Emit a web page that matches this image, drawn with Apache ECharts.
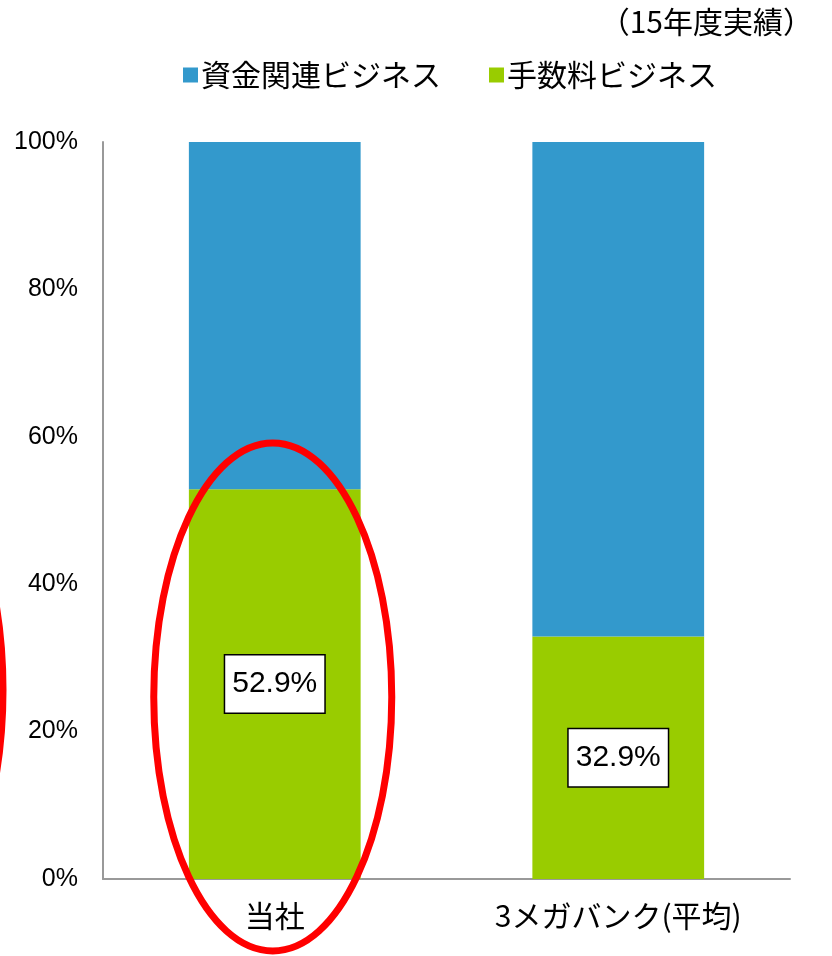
<!DOCTYPE html>
<html>
<head>
<meta charset="utf-8">
<script src="https://cdn.jsdelivr.net/npm/echarts@6/dist/echarts.min.js"></script>
<style>
  html, body { margin: 0; padding: 0; background: #fff; }
  #main { width: 832px; height: 956px; }
</style>
</head>
<body>
<div id="main"></div>
<script>
var categories = ['当社', '3メガバンク(平均)'];
var feeShare = [52.9, 32.9];      // 手数料ビジネス
var fundShare = [47.1, 67.1];     // 資金関連ビジネス
var yTicks = [0, 20, 40, 60, 80, 100];

var jpFont = '"Noto Sans CJK JP", sans-serif';
var numFont = '"Liberation Sans", Arial, sans-serif';

var chart = echarts.init(document.getElementById('main'));

var option = {
    animation: false,
    title: {
        text: '（15年度実績）',
        right: 14,
        top: 2,
        textStyle: { fontFamily: jpFont, fontSize: 30, fontWeight: 'normal', color: '#000' }
    },
    legend: {
        data: ['資金関連ビジネス', '手数料ビジネス'],
        top: 55,
        left: 178,
        icon: 'rect',
        itemWidth: 15,
        itemHeight: 15,
        itemGap: 48,
        textStyle: { fontFamily: jpFont, fontSize: 30, color: '#000', padding: [0, 0, 0, -2] }
    },
    grid: { left: 103, right: 42, top: 142, bottom: 77 },
    xAxis: {
        type: 'category',
        data: categories,
        axisTick: { show: false },
        axisLine: { lineStyle: { color: '#999', width: 2 } },
        axisLabel: { fontFamily: jpFont, fontSize: 30, color: '#000', margin: 22 }
    },
    yAxis: {
        type: 'value',
        min: yTicks[0],
        max: yTicks[yTicks.length - 1],
        interval: 20,
        splitLine: { show: false },
        axisTick: { show: false },
        axisLine: { show: true, lineStyle: { color: '#999', width: 2 } },
        axisLabel: {
            formatter: '{value}%', fontFamily: numFont, fontSize: 25, color: '#000',
            margin: 25, padding: [8, 0, 0, 0]
        }
    },
    series: [
        {
            name: '手数料ビジネス',
            type: 'bar',
            stack: 'total',
            barWidth: '50%',
            data: feeShare,
            itemStyle: { color: '#99CC00' },
            label: {
                show: true,
                position: 'inside',
                formatter: '{c}%',
                fontFamily: numFont,
                fontSize: 30,
                lineHeight: 30,
                color: '#000',
                backgroundColor: '#fff',
                borderColor: '#000',
                borderWidth: 1.5,
                padding: [14, 7, 13, 7]
            }
        },
        {
            name: '資金関連ビジネス',
            type: 'bar',
            stack: 'total',
            data: fundShare,
            itemStyle: { color: '#3399CC' }
        }
    ]
};

chart.setOption(option);

// red ellipses (annotation)
var c0 = chart.convertToPixel({ xAxisIndex: 0, yAxisIndex: 0 }, [0, 24.7]);
chart.setOption({
    graphic: [
        {
            type: 'ellipse',
            shape: { cx: c0[0] - 2, cy: c0[1], rx: 119, ry: 254 },
            style: { fill: 'none', stroke: '#ff0000', lineWidth: 7 },
            z: 100
        },
        {
            type: 'ellipse',
            shape: { cx: -116, cy: 690, rx: 119, ry: 254 },
            style: { fill: 'none', stroke: '#ff0000', lineWidth: 7 },
            z: 100
        }
    ]
});
</script>
</body>
</html>
